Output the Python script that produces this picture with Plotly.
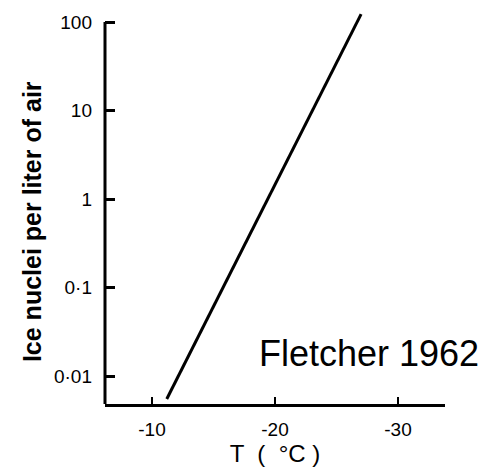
import plotly.graph_objects as go

# Data (Fletcher 1962 ice nuclei curve)
temp_c = [-11.2, -27.0]
ice_nuclei = [0.0055, 123.0]

y_tickvals = [0.01, 0.1, 1, 10, 100]
y_ticktext = ["0·01", "0·1", "1", "10", "100"]
x_tickvals = [-10, -20, -30]
x_ticktext = ["-10", "-20", "-30"]

x_range = [-6.18, -33.82]
y_range = [-2.316, 2.136]

font_main = "Liberation Sans, Arial, sans-serif"

fig = go.Figure()
fig.add_trace(go.Scatter(
    x=temp_c, y=ice_nuclei, mode="lines",
    line=dict(color="black", width=3),
    showlegend=False,
))

fig.update_layout(
    width=493, height=469,
    margin=dict(l=105, r=48, t=10, b=65),
    paper_bgcolor="white", plot_bgcolor="white",
    font=dict(family=font_main, color="black"),
    xaxis=dict(
        range=x_range, showgrid=False, zeroline=False,
        showline=True, linecolor="black", linewidth=3,
        ticks="inside", ticklen=7, tickwidth=2, tickcolor="black",
        tickvals=x_tickvals, ticktext=x_ticktext,
        tickfont=dict(size=19, family=font_main),
        ticklabelstandoff=6,
        title=dict(text="T  (  °C )", font=dict(size=24, family=font_main), standoff=2),
    ),
    yaxis=dict(
        type="log", range=y_range, showgrid=False, zeroline=False,
        showline=False,
        ticks="inside", ticklen=10, tickwidth=3, tickcolor="black",
        tickvals=y_tickvals, ticktext=y_ticktext,
        tickfont=dict(size=19, family=font_main),
        ticklabelstandoff=12,
    ),
)

# y axis title placed like the reference (slightly below the plot centre)
fig.add_annotation(
    text="<b>Ice nuclei per liter of air</b>", xref="paper", yref="paper",
    x=-0.215, y=0.464, xanchor="center", yanchor="middle", textangle=-90,
    showarrow=False, font=dict(size=25, family=font_main, color="black"),
)

# y axis line: from the bottom of the plot to the 100 tick
fig.add_shape(type="line", xref="x domain", yref="y",
              x0=0, x1=0, y0=10 ** y_range[0], y1=y_tickvals[-1],
              line=dict(color="black", width=3))

fig.add_annotation(
    text="Fletcher 1962", xref="paper", yref="paper",
    x=0.447, y=0.129, xanchor="left", yanchor="middle",
    showarrow=False, font=dict(size=36, family=font_main, color="black"),
)

fig.write_html("out.html")
